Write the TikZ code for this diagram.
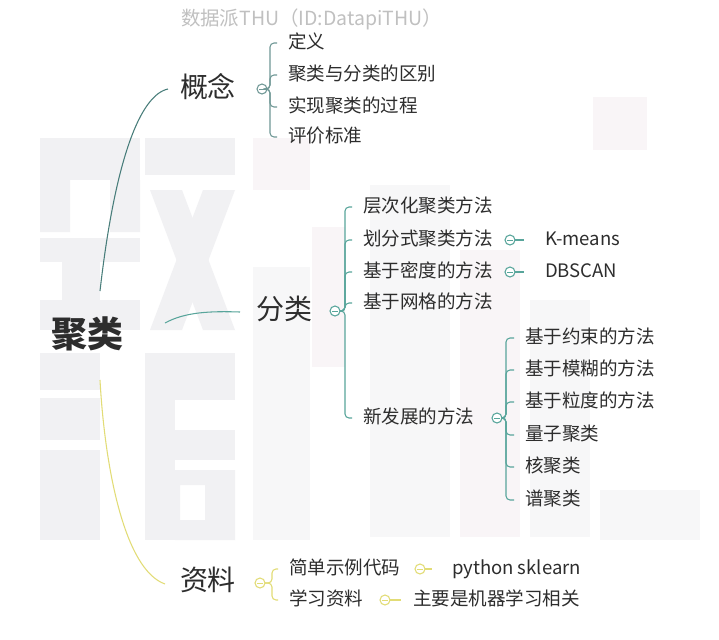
\documentclass[tikz,border=0pt]{standalone}
\usepackage{fontspec}
\setmainfont{Noto Sans CJK SC}
\usetikzlibrary{calc}
\definecolor{txt}{RGB}{45,45,45}
\definecolor{kcol}{RGB}{72,125,122}
\definecolor{kbr}{RGB}{112,152,150}
\definecolor{fcol}{RGB}{88,165,155}
\definecolor{ycol}{RGB}{226,220,118}
\definecolor{hdr}{RGB}{192,192,192}
\definecolor{wmg}{RGB}{241,241,243}
\definecolor{wmp}{RGB}{249,245,247}
\definecolor{wml}{RGB}{247,247,248}
\begin{document}
\begin{tikzpicture}[x=0.75pt,y=-0.75pt,
 every node/.style={inner sep=0pt, outer sep=0pt, text=txt},
 leaf/.style={anchor=west, font=\fontsize{13.9pt}{14pt}\selectfont, text height=0.88em, text depth=0.12em},
 mid/.style={anchor=west, font=\fontsize{21pt}{22pt}\selectfont, text height=0.88em, text depth=0.12em},
 rootnode/.style={font=\fontsize{27pt}{28pt}\selectfont\bfseries, text height=0.88em, text depth=0.12em},
 knob/.style={circle, draw=#1, fill=white, minimum size=7.5pt, line width=0.8pt,
   path picture={\draw[#1, line width=0.7pt] ($(path picture bounding box.center)+(-3,0)$) -- ($(path picture bounding box.center)+(3,0)$);}},
 br/.style={draw=#1, line width=0.8pt, rounded corners=3pt},
 link/.style={draw=#1, line width=0.8pt},
]
\useasboundingbox[fill=white] (0,0) rectangle (719,640);

% watermark (blocky, very faint)
\begin{scope}[wmg]
% 数
\fill (40,138) rectangle (140,180);
\fill (40,180) rectangle (70,232) (110,180) rectangle (140,232);
\fill (40,238) rectangle (140,262);
\fill (62,262) rectangle (100,300);
\fill (40,300) rectangle (140,330);
\fill (145,138) rectangle (235,175);
\fill (150,190) -- (182,190) -- (235,330) -- (203,330) -- cycle;
\fill (203,190) -- (235,190) -- (182,330) -- (150,330) -- cycle;
% 据
\fill (40,353) rectangle (100,390);
\fill (40,398) rectangle (100,440);
\fill (40,450) rectangle (100,540);
\fill (145,353) rectangle (235,400);
\fill (145,400) rectangle (175,540);
\fill (175,430) rectangle (235,460);
\fill[even odd rule] (175,470) rectangle (235,540) (180,485) rectangle (205,520);
\end{scope}
\fill[wmp] (253,138) rectangle (310,190);
\fill[wml] (253,267) rectangle (310,540);
\fill[wmp] (312,227) rectangle (345,367);
\fill[wml] (370,185) rectangle (450,537);
\fill[wmp] (460,250) rectangle (520,537);
\fill[wml] (530,300) rectangle (590,537);
\fill[wmp] (593,97) rectangle (647,150);
\fill[wml] (600,490) rectangle (700,540);

% header
\node[anchor=west, text=hdr, font=\fontsize{14.6pt}{15pt}\selectfont] (hd) at (181,19) {数据派THU（ID:DatapiTHU）};

% main nodes
\node[rootnode] (root) at (87,342) {聚类};
\node[mid] (gn) at (180,92) {概念};
\node[mid] (fl) at (256,314) {分类};
\node[mid] (zl) at (180,585) {资料};

% main connectors
\coordinate (s1) at (100,291);
\coordinate (s2) at (165,323);
\coordinate (s3) at (100,380);
\draw[link=kcol] (s1) .. controls (115,160) and (140,95) .. ($(gn.west)+(-12,-3)$);
\draw[link=fcol] (s2) .. controls (185,312) and (210,311) .. ($(fl.west)+(-16,-2)$);
\draw[link=ycol] (s3) .. controls (105,470) and (125,570) .. ($(zl.west)+(-15,-1)$);

% knobs
\node[knob=kbr] (gk) at (262,89) {};
\node[knob=fcol] (fk) at (335,311) {};
\node[knob=fcol] (nk) at (497,418) {};
\node[knob=ycol] (zk) at (260,583) {};

% 概念 children
\node[leaf] (g1) at (288,43) {定义};
\node[leaf] (g2) at (288,75) {聚类与分类的区别};
\node[leaf] (g3) at (288,107) {实现聚类的过程};
\node[leaf] (g4) at (288,137) {评价标准};
\foreach \c in {g1,g2,g3,g4}
  \draw[br=kbr] (gk.east) -- ++(3,0) |- ($(\c.west)+(-11,0)$);

% 分类 children
\node[leaf] (f1) at (363,207) {层次化聚类方法};
\node[leaf] (f2) at (363,240) {划分式聚类方法};
\node[leaf] (f3) at (363,272) {基于密度的方法};
\node[leaf] (f4) at (363,303) {基于网格的方法};
\node[leaf] (f5) at (363,418) {新发展的方法};
\foreach \c in {f1,f2,f3,f4,f5}
  \draw[br=fcol] (fk.east) -- ++(5,0) |- ($(\c.west)+(-11,0)$);

\node[knob=fcol] (kmk) at (510,240) {};
\node[leaf] (km) at (545,240) {K-means};
\draw[link=fcol] (kmk.east) -- ($(km.west)+(-21,0)$);
\node[knob=fcol] (dbk) at (510,272) {};
\node[leaf] (db) at (545,272) {DBSCAN};
\draw[link=fcol] (dbk.east) -- ($(db.west)+(-21,0)$);

% 新发展 children
\node[leaf] (n1) at (525,338) {基于约束的方法};
\node[leaf] (n2) at (525,370) {基于模糊的方法};
\node[leaf] (n3) at (525,402) {基于粒度的方法};
\node[leaf] (n4) at (525,435) {量子聚类};
\node[leaf] (n5) at (525,467) {核聚类};
\node[leaf] (n6) at (525,500) {谱聚类};
\foreach \c in {n1,n2,n3,n4,n5,n6}
  \draw[br=fcol] (nk.east) -- ++(4,0) |- ($(\c.west)+(-11,0)$);

% 资料 children
\node[leaf] (z1) at (289,569) {简单示例代码};
\node[leaf] (z2) at (289,600) {学习资料};
\foreach \c in {z1,z2}
  \draw[br=ycol] (zk.east) -- ++(7,0) |- ($(\c.west)+(-11,0)$);

\node[knob=ycol] (pyk) at (420,569) {};
\node[leaf] (py) at (452,569) {python sklearn};
\draw[link=ycol] (pyk.east) -- ($(py.west)+(-20,0)$);
\node[knob=ycol] (zyk) at (385,600) {};
\node[leaf] (zy) at (413,600) {主要是机器学习相关};
\draw[link=ycol] (zyk.east) -- ($(zy.west)+(-12,0)$);
\end{tikzpicture}
\end{document}
